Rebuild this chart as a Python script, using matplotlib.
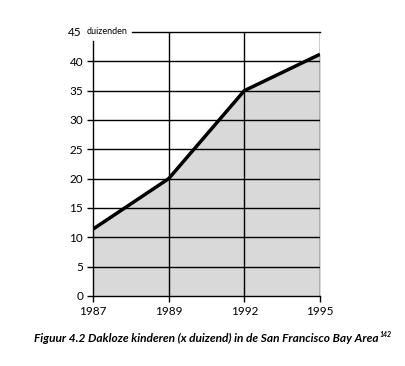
import matplotlib.pyplot as plt

plt.rcParams['font.family'] = ['Lato', 'DejaVu Sans']

years = ["1987", "1989", "1992", "1995"]
kinderen = [11.4, 20.0, 35.0, 41.2]
y_ticks = [0, 5, 10, 15, 20, 25, 30, 35, 40]

fig = plt.figure(figsize=(4.05, 3.66), dpi=100)
ax = fig.add_axes([93 / 405, 70 / 366, 227 / 405, 264 / 366])

x = list(range(len(years)))
ax.fill_between(x, 0, kinderen, color="#d9d9d9", zorder=1)

# grid
for v in y_ticks[1:]:
    ax.axhline(v, color="black", lw=1.0, zorder=2)
for xi in x[1:]:
    ax.axvline(xi, color="black", lw=1.0, zorder=2)
# top line starts after the "duizenden" label
ax.plot([0.51, 3], [45, 45], color="black", lw=1.0, zorder=2, clip_on=False)

ax.plot(x, kinderen, color="black", lw=2.5, zorder=3, solid_capstyle="butt")

ax.set_xlim(0, 3)
ax.set_ylim(0, 45)
ax.set_xticks(x)
ax.set_xticklabels(years)
ax.set_yticks(y_ticks)
for s in ["top", "right"]:
    ax.spines[s].set_visible(False)
ax.spines["left"].set_bounds(0, 43.5)
ax.spines["left"].set_linewidth(1.0)
ax.spines["bottom"].set_linewidth(1.0)
ax.tick_params(axis="both", length=4, width=1.0, labelsize=8.5, pad=3)

ax.text(-0.145, 45, "45", fontsize=8.5, ha="right", va="center")
ax.text(-0.08, 45, "duizenden", fontsize=6.5, ha="left", va="center")

# caption with a separate superscript
cap = fig.text(34 / 405, 1 - 338 / 366,
               "Figuur 4.2 Dakloze kinderen (x duizend) in de San Francisco Bay Area",
               fontsize=8.6, fontweight="bold", fontstyle="italic", ha="left", va="center")
fig.canvas.draw()
bb = cap.get_window_extent().transformed(fig.transFigure.inverted())
fig.text(bb.x1 + 0.002, bb.y1 + 0.004, "142", fontsize=5, fontweight="bold",
         fontstyle="italic", ha="left", va="top")

fig.savefig("out.png", dpi=100)
